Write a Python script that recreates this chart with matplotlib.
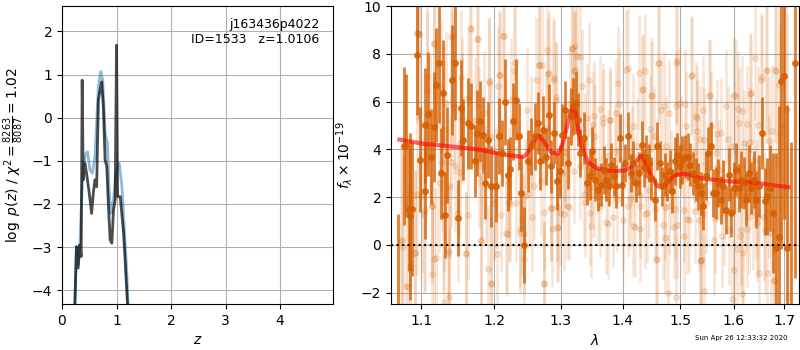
import numpy as np
import matplotlib.pyplot as plt
from matplotlib.ticker import FixedLocator, FixedFormatter, NullLocator

# ---- redshift fit panel ----
z_chi2 = [0.235, 0.265, 0.296, 0.327, 0.352, 0.370, 0.389, 0.420, 0.450, 0.500,
          0.543, 0.574, 0.605, 0.636, 0.667, 0.698, 0.728, 0.759, 0.790, 0.821,
          0.852, 0.883, 0.914, 0.944, 0.975, 1.000, 1.019, 1.068, 1.130, 1.160, 1.204]
logp_chi2 = [-4.40, -2.99, -3.49, -2.95, -3.22, 0.87, -1.44, -1.06, -1.29, -1.75,
             -2.22, -1.75, -1.44, -1.60, 0.41, 0.64, 0.83, 0.25, -0.98, -1.13,
             -2.06, -2.83, -2.91, -2.14, -1.91, 1.68, -1.83, -1.83, -2.68, -3.37, -4.40]

z_pdf = [0.235, 0.265, 0.296, 0.327, 0.358, 0.389, 0.438, 0.470, 0.512, 0.556,
         0.605, 0.667, 0.710, 0.747, 0.790, 0.833, 0.864, 0.895, 0.944, 0.988,
         1.050, 1.100, 1.140, 1.180, 1.216]
logp_pdf = [-4.40, -3.00, -3.40, -2.99, -1.91, -1.14, -0.83, -0.79, -1.21, -1.29,
            -0.90, 0.72, 1.07, 0.87, -0.36, -0.59, -1.68, -2.22, -1.91, -1.29,
            -1.06, -1.60, -2.53, -3.37, -4.40]

# ---- spectrum panel: binned points ----
wave_bin = [1.0692, 1.0778, 1.0799, 1.0830, 1.0851, 1.0877, 1.0939, 1.0974, 1.1040, 1.1053,
            1.1084, 1.1128, 1.1164, 1.1195, 1.1227, 1.1263, 1.1294, 1.1321, 1.1340, 1.1412,
            1.1458, 1.1490, 1.1537, 1.1560, 1.1629, 1.1676, 1.1723, 1.1756, 1.1793, 1.1841,
            1.1874, 1.1912, 1.1960, 1.2032, 1.2071, 1.2114, 1.2153, 1.2201, 1.2236, 1.2275,
            1.2324, 1.2364, 1.2398, 1.2433, 1.2498, 1.2548, 1.2598, 1.2649, 1.2684, 1.2725,
            1.2776, 1.2817, 1.2853, 1.2894, 1.2940, 1.2982, 1.3024, 1.3060, 1.3113, 1.3155,
            1.3192, 1.3234, 1.3271, 1.3308, 1.3367, 1.3415, 1.3458, 1.3496, 1.3539, 1.3593,
            1.3648, 1.3686, 1.3730, 1.3774, 1.3813, 1.3851, 1.3896, 1.3951, 1.3996, 1.4035,
            1.4091, 1.4136, 1.4176, 1.4233, 1.4278, 1.4324, 1.4364, 1.4404, 1.4450, 1.4491,
            1.4549, 1.4596, 1.4637, 1.4683, 1.4725, 1.4772, 1.4813, 1.4861, 1.4903, 1.4950,
            1.4992, 1.5040, 1.5083, 1.5143, 1.5185, 1.5234, 1.5283, 1.5326, 1.5375, 1.5418,
            1.5467, 1.5511, 1.5560, 1.5604, 1.5654, 1.5698, 1.5748, 1.5793, 1.5856, 1.5907,
            1.5951, 1.6002, 1.6047, 1.6099, 1.6144, 1.6196, 1.6241, 1.6293, 1.6339, 1.6391,
            1.6437, 1.6490, 1.6549, 1.6602, 1.6655, 1.6715, 1.6769, 1.6823, 1.6890, 1.6937,
            1.6991, 1.7053, 1.7140, 1.7212]
flux_bin = [-2.80, 4.13, 4.17, 1.50, 1.20, 1.50, 7.93, 3.57, 5.00, 2.24,
            5.48, 3.70, 4.94, 6.70, 7.60, 3.00, 6.36, 1.26, 3.76, 6.92,
            7.62, 1.12, 5.73, 4.40, 5.10, 4.96, 3.50, 4.69, 5.17, 4.60,
            2.59, 4.40, 2.45, 2.45, 4.55, 3.85, 6.00, 2.94, 3.20, 5.17,
            6.08, 4.55, 2.17, 0.00, 3.50, 4.13, 4.55, 5.10, 3.50, 4.82,
            3.70, 5.45, 3.29, 4.69, 2.66, 3.08, 4.60, 5.66, 3.45, 5.38,
            5.80, 5.94, 5.24, 3.85, 4.48, 2.59, 2.87, 3.92, 2.73, 2.31,
            2.52, 3.15, 2.73, 2.45, 3.36, 2.87, 2.45, 4.48, 2.52, 3.43,
            4.55, 3.00, 3.43, 2.59, 3.00, 4.20, 3.22, 3.70, 3.43, 2.80,
            1.89, 4.13, 3.43, 2.45, 2.94, 2.66, 3.08, 2.24, 3.50, 3.78,
            3.29, 3.57, 3.70, 3.70, 3.36, 3.00, 2.73, 2.45, 2.17, 1.61,
            2.87, 3.85, 4.13, 2.17, 2.17, 2.59, 1.89, 2.45, 1.47, 2.94,
            1.33, 2.38, 3.15, 2.38, 2.73, 2.59, 1.89, 3.00, 2.38, 2.73,
            1.89, 2.45, 4.69, 1.82, 2.03, 2.38, 1.33, -0.14, 0.32, 6.85,
            7.09, -0.14, -3.00, 7.62]
err_bin = [4.1, 3.3, 3.0, 2.6, 3.5, 2.8, 2.5, 2.2, 2.4, 2.0,
           2.6, 2.0, 2.3, 2.4, 2.5, 1.9, 2.2, 1.8, 2.0, 2.3,
           2.4, 1.6, 2.0, 1.7, 1.9, 1.8, 1.5, 1.8, 1.7, 1.6,
           1.5, 1.6, 1.7, 1.5, 1.6, 1.4, 1.8, 1.5, 1.3, 1.6,
           1.7, 1.4, 1.6, 1.6, 1.3, 1.2, 1.4, 1.3, 1.2, 1.4,
           1.2, 1.3, 1.1, 1.3, 1.2, 1.1, 1.3, 1.2, 1.1, 1.2,
           1.2, 1.3, 1.1, 1.0, 1.1, 0.9, 1.0, 1.0, 0.9, 0.9,
           0.9, 1.0, 0.9, 0.8, 0.9, 0.8, 0.9, 1.0, 0.9, 0.8,
           1.0, 0.8, 0.9, 0.8, 0.9, 1.0, 0.8, 0.9, 0.8, 0.9,
           0.9, 1.0, 0.9, 0.8, 0.9, 0.8, 0.9, 0.9, 1.0, 0.9,
           0.9, 1.0, 0.9, 1.0, 0.9, 0.9, 0.9, 1.0, 0.9, 1.0,
           1.0, 1.1, 1.0, 1.0, 1.1, 1.0, 1.0, 1.1, 1.0, 1.1,
           1.0, 1.1, 1.1, 1.0, 1.2, 1.1, 1.1, 1.2, 1.1, 1.2,
           1.2, 1.3, 1.5, 1.4, 1.6, 1.8, 2.5, 4.0, 5.5, 7.0,
           6.0, 6.0, 7.3, 9.0]

# ---- spectrum panel: unbinned points ----
wave_raw = [1.0735, 1.0756, 1.0821, 1.0843, 1.0909, 1.0940, 1.0966, 1.1009, 1.1040, 1.1071,
            1.1107, 1.1142, 1.1173, 1.1196, 1.1240, 1.1286, 1.1322, 1.1354, 1.1386, 1.1422,
            1.1445, 1.1491, 1.1514, 1.1551, 1.1597, 1.1630, 1.1667, 1.1723, 1.1756, 1.1784,
            1.1817, 1.1851, 1.1889, 1.1922, 1.1960, 1.1994, 1.2032, 1.2071, 1.2105, 1.2129,
            1.2177, 1.2216, 1.2251, 1.2285, 1.2325, 1.2374, 1.2413, 1.2448, 1.2483, 1.2513,
            1.2548, 1.2584, 1.2624, 1.2659, 1.2700, 1.2735, 1.2776, 1.2812, 1.2843, 1.2879,
            1.2920, 1.2956, 1.2993, 1.3024, 1.3066, 1.3103, 1.3139, 1.3175, 1.3212, 1.3255,
            1.3298, 1.3335, 1.3378, 1.3415, 1.3458, 1.3502, 1.3540, 1.3594, 1.3632, 1.3676,
            1.3719, 1.3758, 1.3796, 1.3841, 1.3885, 1.3924, 1.3968, 1.4007, 1.4052, 1.4092,
            1.4132, 1.4177, 1.4211, 1.4251, 1.4291, 1.4337, 1.4377, 1.4417, 1.4452, 1.4492,
            1.4533, 1.4579, 1.4626, 1.4668, 1.4709, 1.4756, 1.4803, 1.4845, 1.4886, 1.4934,
            1.4982, 1.5025, 1.5073, 1.5115, 1.5163, 1.5206, 1.5248, 1.5297, 1.5346, 1.5389,
            1.5432, 1.5481, 1.5531, 1.5575, 1.5625, 1.5669, 1.5713, 1.5763, 1.5807, 1.5858,
            1.5909, 1.5954, 1.6005, 1.6049, 1.6100, 1.6146, 1.6191, 1.6243, 1.6295, 1.6341,
            1.6393, 1.6439, 1.6492, 1.6539, 1.6592, 1.6638, 1.6691, 1.6738, 1.6785, 1.6839,
            1.6907, 1.6975, 1.7042, 1.7076,
            # second batch
            1.0943, 1.0964, 1.1164, 1.1403, 1.1770, 1.1666, 1.1075, 1.1263, 1.1413, 1.1537,
            1.1926, 1.0943, 1.1298, 1.1435, 1.1551, 1.1298, 1.1142, 1.1030, 1.1629, 1.0748,
            1.0921, 1.1164, 1.1133, 1.1366, 1.1597, 1.1807, 1.1911, 1.1950, 1.1298, 1.1366,
            1.0804, 1.1504, 1.1831, 1.1950, 1.1277, 1.1390, 1.1783,
            1.2138, 1.2310, 1.2090, 1.2051, 1.2659, 1.2709, 1.2785, 1.2800, 1.2888, 1.2919,
            1.3175, 1.3229, 1.3297, 1.3229, 1.3442, 1.3523, 1.3513, 1.2211, 1.2233, 1.2186,
            1.2384, 1.2557, 1.2735, 1.2847, 1.2940, 1.3045, 1.3123, 1.2940, 1.2862, 1.2744,
            1.2433, 1.2041, 1.2442, 1.3361, 1.3383, 1.3523, 1.3479, 1.3202, 1.3071,
            1.4098, 1.4279, 1.4615, 1.4952, 1.5224, 1.4355, 1.4511, 1.4810, 1.4927, 1.3626,
            1.3946, 1.3790, 1.3670, 1.5089, 1.5302, 1.3872, 1.4154, 1.4469, 1.5302, 1.3901,
            1.4125, 1.4296, 1.4382, 1.4556, 1.4732, 1.4910, 1.5120, 1.5272, 1.3763, 1.4183,
            1.4296, 1.4704, 1.4940, 1.5071, 1.4732, 1.4585, 1.4779, 1.4927, 1.5363,
            1.6413, 1.6645, 1.6812, 1.6546, 1.6316, 1.7049, 1.6900, 1.6000, 1.5543, 1.6085,
            1.6149, 1.5426, 1.6246, 1.6478, 1.6745, 1.5893, 1.5675, 1.6679, 1.5363, 1.6304,
            1.5643, 1.5426, 1.6381, 1.6478, 1.6445, 1.6117, 1.6246, 1.6611, 1.5771, 1.6053,
            1.6183, 1.6645, 1.6792, 1.5958, 1.6149, 1.5437, 1.5376]
flux_raw = [0.21, -0.07, -1.75, -0.91, -0.35, 8.88, 8.81, 2.03, 1.47, 6.50,
            4.97, 1.61, 8.46, -0.56, 2.59, 1.19, 5.94, -0.35, 2.45, 8.74,
            3.29, 1.33, 4.27, 5.66, -0.35, 6.15, 9.02, 5.24, 8.60, 4.97,
            0.21, 5.52, 2.52, 6.78, -1.61, 1.75, 2.38, 7.13, 1.26, 8.74,
            0.49, 2.59, 6.08, 7.27, 1.75, 0.49, 1.05, 2.03, 5.66, 2.17,
            4.69, 2.45, 6.92, 7.55, 2.66, -1.61, 4.90, 7.20, 1.54, 6.92,
            6.08, 0.77, 1.33, 3.01, 3.85, 1.61, 5.94, 8.25, 7.27, 7.90,
            3.29, 6.64, 4.27, 5.31, 1.33, 3.01, 4.55, 2.03, 1.61, 5.31,
            0.98, 3.71, 5.24, 1.19, 5.52, 6.78, 3.57, 1.05, 7.34, 1.61,
            2.87, 4.97, 0.77, 4.13, 2.10, 6.50, 7.27, 1.33, 2.31, 6.22,
            4.55, -0.63, 7.62, 5.66, 5.80, 4.13, 1.61, 2.73, 0.77, 7.62,
            5.94, 4.13, 1.47, 4.97, 1.05, 7.06, 3.85, 5.38, 1.05, -0.63,
            4.41, 1.75, 6.22, 4.97, 0.21, 3.85, 3.15, 4.69, 1.33, 5.80,
            0.63, 4.13, -1.05, 6.22, 5.10, 0.63, 4.27, 2.03, 1.19, 6.36,
            3.57, 1.89, -1.19, 6.92, 1.19, 7.27, 2.45, 0.49, -1.47, 7.27,
            4.69, 4.97, 5.66, -2.17,
            # second batch
            8.85, 8.81, 8.43, 8.71, 8.64, 9.06, 7.03, 6.61, 6.89, 7.03,
            6.85, 2.13, 4.83, 5.77, 5.28, 1.78, 1.64, 1.29, 1.25, 0.17,
            -0.35, -0.57, -1.20, -0.25, -0.39, 0.17, -1.02, -1.65, -2.39, -2.18,
            -1.72, 3.04, 2.90, 4.51, 3.46, 3.49, 3.32,
            8.74, 7.63, 7.13, 6.64, 7.55, 7.52, 8.15, 7.14, 6.99, 6.19,
            8.22, 8.32, 7.87, 7.31, 6.92, 5.39, 5.07, 1.78, 1.71, 0.45,
            0.66, 1.15, 1.36, 1.54, 1.57, 1.29, 1.57, 0.73, 0.66, -1.63,
            -0.60, -0.39, 0.45, 2.13, 1.78, 2.41, 0.80, 3.11, 3.88,
            7.41, 7.21, 7.63, 7.69, 7.13, 6.54, 6.29, 5.53, 5.81, 5.70,
            5.91, 5.24, 5.11, 5.91, 5.31, 3.88, 3.71, 4.86, 4.79, 1.92,
            1.92, 1.64, 1.29, 1.50, 1.57, 1.50, 1.08, 1.43, 0.87, 0.80,
            0.66, 0.83, 0.83, 0.38, 0.28, -0.60, -2.03, -2.17, -0.67,
            7.84, 7.31, 7.31, 7.03, 6.33, 5.67, 6.68, 6.26, 6.26, 5.70,
            5.59, 5.63, 5.07, 5.00, 4.75, 4.44, 4.65, 4.37, 4.44, 4.30,
            1.08, 1.29, 1.36, 1.15, 0.91, 0.38, 0.66, 0.63, 0.38, -0.18,
            -0.32, -1.16, -1.51, -2.26, -2.07, -1.93, -0.63]
err_raw = [4.0, 3.8, 4.2, 3.6, 3.5, 3.8, 3.6, 3.2, 3.4, 3.3,
           3.0, 3.2, 3.5, 3.0, 2.9, 3.1, 3.0, 2.8, 3.0, 3.2,
           2.7, 2.9, 2.8, 3.0, 2.6, 2.8, 3.0, 2.6, 2.9, 2.5,
           2.7, 2.6, 2.5, 2.7, 2.8, 2.4, 2.5, 2.7, 2.4, 2.8,
           2.5, 2.3, 2.6, 2.7, 2.4, 2.5, 2.3, 2.4, 2.6, 2.3,
           2.4, 2.2, 2.6, 2.7, 2.3, 2.6, 2.4, 2.6, 2.2, 2.5,
           2.4, 2.3, 2.2, 2.1, 2.3, 2.2, 2.4, 2.6, 2.5, 2.6,
           2.2, 2.4, 2.1, 2.3, 2.2, 2.1, 2.2, 2.0, 2.1, 2.3,
           2.2, 2.0, 2.2, 2.1, 2.3, 2.4, 2.0, 2.1, 2.5, 2.1,
           2.0, 2.2, 2.1, 2.0, 2.1, 2.3, 2.4, 2.1, 2.0, 2.3,
           2.1, 2.2, 2.5, 2.2, 2.3, 2.1, 2.0, 2.1, 2.2, 2.5,
           2.3, 2.1, 2.2, 2.3, 2.2, 2.5, 2.1, 2.3, 2.2, 2.4,
           2.2, 2.1, 2.4, 2.3, 2.3, 2.2, 2.1, 2.3, 2.2, 2.4,
           2.3, 2.2, 2.5, 2.4, 2.3, 2.3, 2.2, 2.3, 2.4, 2.5,
           2.4, 2.5, 2.6, 2.8, 2.7, 3.0, 3.0, 3.2, 3.5, 4.0,
           4.5, 5.0, 5.5, 6.0,
           # second batch
           3.6, 3.5, 3.2, 3.0, 2.9, 3.1, 3.0, 2.8, 2.9, 2.8,
           2.7, 3.4, 2.9, 2.8, 2.7, 2.9, 3.0, 3.3, 2.7, 3.8,
           3.5, 3.0, 3.1, 2.8, 2.6, 2.6, 2.7, 2.8, 3.0, 2.9,
           3.7, 2.7, 2.6, 2.5, 2.9, 2.8, 2.6,
           2.8, 2.7, 2.6, 2.5, 2.7, 2.5, 2.8, 2.4, 2.5, 2.3,
           2.8, 2.9, 2.6, 2.5, 2.4, 2.3, 2.2, 2.5, 2.4, 2.6,
           2.4, 2.3, 2.4, 2.2, 2.3, 2.4, 2.2, 2.3, 2.4, 2.6,
           2.5, 2.7, 2.5, 2.2, 2.3, 2.1, 2.2, 2.2, 2.1,
           2.5, 2.4, 2.6, 2.7, 2.5, 2.3, 2.4, 2.2, 2.3, 2.2,
           2.3, 2.1, 2.2, 2.3, 2.2, 2.0, 2.1, 2.2, 2.1, 2.2,
           2.1, 2.2, 2.3, 2.1, 2.2, 2.1, 2.3, 2.2, 2.3, 2.1,
           2.2, 2.3, 2.2, 2.4, 2.3, 2.4, 2.5, 2.6, 2.4,
           2.6, 2.7, 3.0, 2.6, 2.5, 4.0, 3.5, 2.4, 2.3, 2.4,
           2.3, 2.3, 2.4, 2.5, 2.8, 2.2, 2.3, 2.7, 2.2, 2.3,
           2.3, 2.2, 2.4, 2.5, 2.4, 2.3, 2.4, 2.7, 2.2, 2.3,
           2.4, 2.7, 3.0, 2.5, 2.6, 2.4, 2.3]

# ---- best-fit model ----
wave_model = [1.0713, 1.1018, 1.1468, 1.1794, 1.2096, 1.2423, 1.2473, 1.2548, 1.2624, 1.2674,
              1.2751, 1.2853, 1.2956, 1.3008, 1.3087, 1.3149, 1.3191, 1.3234, 1.3287, 1.3351,
              1.3431, 1.3567, 1.3730, 1.3896, 1.4035, 1.4120, 1.4205, 1.4291, 1.4337, 1.4394,
              1.4492, 1.4608, 1.4697, 1.4786, 1.4906, 1.5057, 1.5175, 1.5358, 1.5604, 1.5921,
              1.6243, 1.6572, 1.6839, 1.7076]
flux_model = [4.41, 4.24, 4.10, 3.99, 3.80, 3.68, 3.78, 4.13, 4.52, 4.57,
              4.27, 3.87, 3.82, 4.06, 4.83, 5.59, 5.78, 5.52, 4.69, 3.99,
              3.47, 3.22, 3.12, 3.09, 3.12, 3.22, 3.43, 3.68, 3.73, 3.43,
              2.87, 2.45, 2.42, 2.66, 2.91, 2.98, 2.94, 2.80, 2.73, 2.66,
              2.63, 2.56, 2.48, 2.42]

wave_ticks = [1.1, 1.2, 1.3, 1.4, 1.5, 1.6, 1.7]
g141 = (0.8353, 0.3686, 0.0)

fig = plt.figure(figsize=(8, 3.5), dpi=100)

ax = fig.add_axes([62/800, 46/350, 271/800, 298/350])
ax.plot(z_pdf, logp_pdf, color='tab:blue', alpha=0.5, lw=2)
ax.plot(z_chi2, logp_chi2, color='k', alpha=0.7, lw=2)
ax.set_xlim(0, 4.97)
ax.set_ylim(-4.32, 2.59)
ax.set_xlabel('$z$')
ax.set_ylabel(r'$\log\ p(z)$ / $\chi^2=\frac{8263}{8087}=1.02$')
ax.grid()
ax.text(0.95, 0.96, 'j163436p4022\nID=1533   z=1.0106', transform=ax.transAxes,
        ha='right', va='top', fontsize=9)

ax2 = fig.add_axes([391/800, 46/350, 408/800, 298/350])
ax2.errorbar(wave_raw, flux_raw, yerr=err_raw, color=g141, alpha=0.15,
             marker='o', ms=4, linestyle='None', elinewidth=2)
ax2.errorbar(wave_bin, flux_bin, yerr=err_bin, color=g141, alpha=0.8,
             marker='o', ms=4, linestyle='None', elinewidth=2)
ax2.plot(wave_model, flux_model, color='r', alpha=0.6, lw=3)
ax2.axhline(0, color='k', linestyle=':', lw=1.5)
ax2.set_xscale('log')
ax2.set_xlim(1.0605, 1.730)
ax2.set_ylim(-2.47, 10)
ax2.xaxis.set_major_locator(FixedLocator(wave_ticks))
ax2.xaxis.set_major_formatter(FixedFormatter(['%.1f' % w for w in wave_ticks]))
ax2.xaxis.set_minor_locator(NullLocator())
ax2.set_yticks([-2, 0, 2, 4, 6, 8, 10])
ax2.set_xlabel(r'$\lambda$')
ax2.set_ylabel(r'$f_\lambda\times10^{-19}$')
ax2.grid()

fig.text(0.984, 0.025, 'Sun Apr 26 12:33:32 2020', ha='right', va='bottom', fontsize=5)

fig.savefig('out.png', dpi=100)
